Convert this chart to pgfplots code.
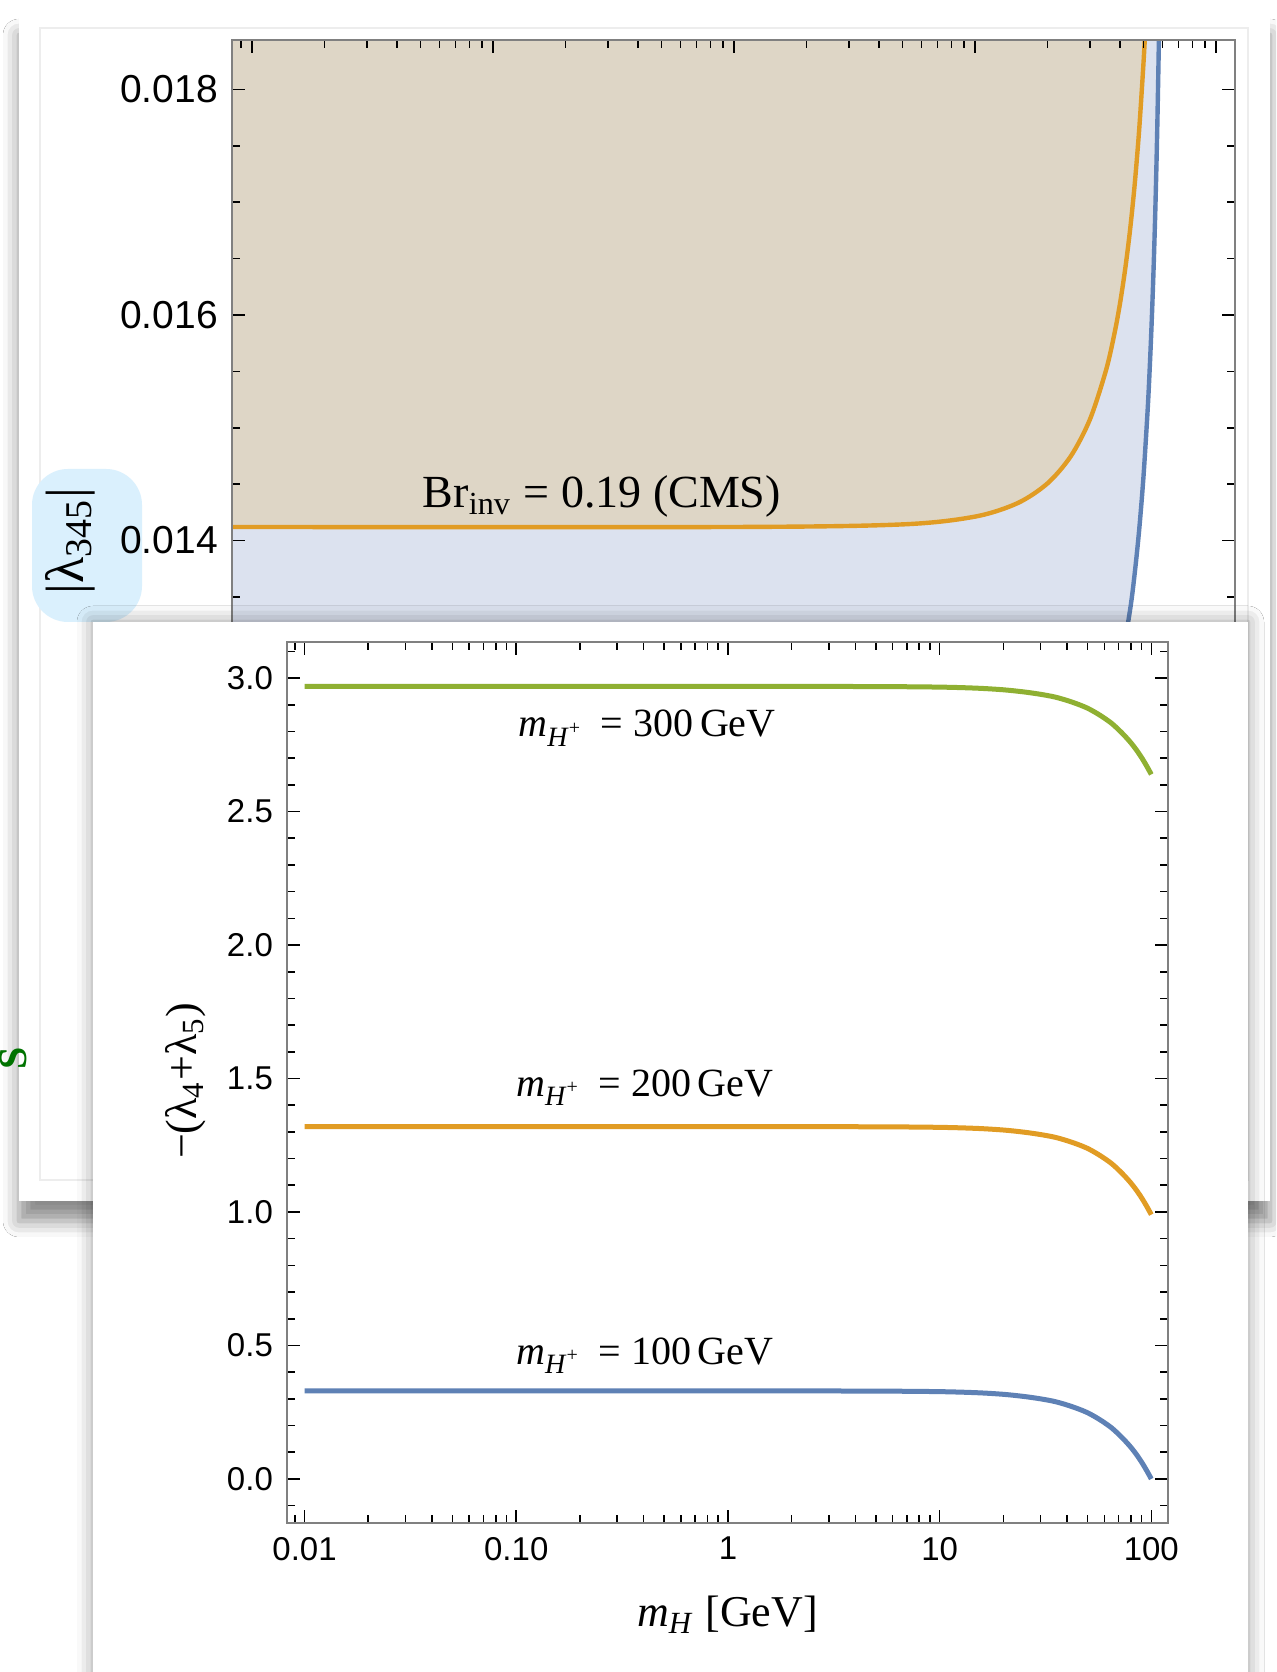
\documentclass[border=0pt]{standalone}
\usepackage{fontspec}
\setmainfont{Liberation Serif}
\newfontfamily\tickfont{Liberation Sans}
\usepackage{pgfplots}
\pgfplotsset{compat=1.18}
\usetikzlibrary{shadows.blur}

\definecolor{mblue}{RGB}{94,129,181}
\definecolor{morange}{RGB}{225,156,36}
\definecolor{mgreen}{RGB}{143,176,50}
\definecolor{fillblue}{RGB}{220,226,239}
\definecolor{fillbeige}{RGB}{222,214,198}
\definecolor{hlcyan}{RGB}{218,240,253}

\newcommand{\mHp}{\textit{m}\textsubscript{\textit{H}\textsuperscript{+}}}

\pgfplotsset{
  mmaframe/.style={
    scale only axis,
    scaled ticks=false,
    axis line style={black!50, line width=0.45pt},
    tick style={black, line width=0.4pt},
    major tick length=3.25pt, minor tick length=2pt,
    tick align=inside,
    xtick={0.01,0.1,1,10,100},
    minor xtick={0.009,0.02,0.03,0.04,0.05,0.06,0.07,0.08,0.09,
                 0.2,0.3,0.4,0.5,0.6,0.7,0.8,0.9,2,3,4,5,6,7,8,9,
                 20,30,40,50,60,70,80,90},
  }
}

\begin{document}
\begin{tikzpicture}[x=0.25pt,y=0.25pt]
\path[use as bounding box] (0,0) rectangle (1276,1672);
\clip (0,0) rectangle (1276,1672);
\fill[white] (0,0) rectangle (1276,1672);

% rear panel: |lambda_345| bound
\fill[white, blur shadow={shadow xshift=0pt, shadow yshift=-5pt,
      shadow blur radius=4pt, shadow opacity=45}] (19,471) rectangle (1270,1657);
\draw[black!7, line width=0.3pt] (40,492) rectangle (1248,1644);
\node[rotate=90, text=green!45!black, inner sep=0pt, font=\bfseries\fontsize{10}{12}\selectfont] at (13,614) {S};

\fill[hlcyan, rounded corners=9pt] (32,1050) rectangle (142,1203);
\node[rotate=90, font=\fontsize{13.5}{15}\selectfont] at (70,1131) {|λ\textsubscript{345}|};

\begin{axis}[xmode=log, xmin=0.00826, xmax=119.9, mmaframe,
  at={(58pt,408pt)}, anchor=north west,
  width=250.75pt, height=240pt,
  ymin=0.009925, ymax=0.018439,
  xticklabels={},
  ytick={0.010,0.012,0.014,0.016,0.018},
  yticklabels={0.010,0.012,0.014,0.016,0.018},
  minor ytick={0.0105,0.011,0.0115,0.0125,0.013,0.0135,0.0145,0.015,0.0155,0.0165,0.017,0.0175},
  yticklabel style={font=\tickfont\fontsize{9.75}{11}\selectfont},
  axis on top,
]
% region above the blue curve
\addplot[draw=none, fill=fillblue] coordinates {
  (0.008,0.01128) (1,0.01128) (10,0.011353) (20,0.011589) (30,0.012043)
  (35,0.012393) (40,0.012868) (44,0.013385) (46,0.013710) (48,0.014095)
  (50,0.014563) (52,0.015144) (53,0.015494) (54,0.015897) (55,0.016367)
  (56,0.016927) (57,0.017612) (58,0.018480) (58.5,0.019013) (0.008,0.019013)
} -- cycle;
% region above the CMS curve
\addplot[draw=none, fill=fillbeige] coordinates {
  (0.008,0.01412) (1,0.01412) (5,0.014143) (10,0.014212) (15,0.014331)
  (20,0.014507) (25,0.014749) (30,0.015075) (35,0.015513) (38,0.015847)
  (40,0.016108) (42,0.016408) (44,0.016755) (46,0.017161) (48,0.017644)
  (50,0.018229) (51,0.018572) (52,0.018957) (0.008,0.018957)
} -- cycle;
\addplot[mblue, line width=1.1pt, smooth] coordinates {
  (0.008,0.01128) (1,0.01128) (10,0.011353) (20,0.011589) (30,0.012043)
  (35,0.012393) (40,0.012868) (44,0.013385) (46,0.013710) (48,0.014095)
  (50,0.014563) (52,0.015144) (53,0.015494) (54,0.015897) (55,0.016367)
  (56,0.016927) (57,0.017612) (58,0.018480) (58.5,0.019013)
};
\addplot[morange, line width=1.1pt, smooth] coordinates {
  (0.008,0.01412) (1,0.01412) (5,0.014143) (10,0.014212) (15,0.014331)
  (20,0.014507) (25,0.014749) (30,0.015075) (35,0.015513) (38,0.015847)
  (40,0.016108) (42,0.016408) (44,0.016755) (46,0.017161) (48,0.017644)
  (50,0.018229) (51,0.018572) (52,0.018957)
};
\node[font=\fontsize{11.5}{13}\selectfont] at (axis cs:0.283,0.014395)
  {Br\textsubscript{inv} = 0.19 (CMS)};
\end{axis}

% front panel: -(lambda_4+lambda_5)
\fill[white, blur shadow={shadow xshift=0pt, shadow yshift=0pt,
      shadow blur radius=4pt, shadow opacity=40}] (93,-60) rectangle (1248,1050);

\begin{axis}[xmode=log, xmin=0.00826, xmax=119.9, mmaframe,
  at={(71.75pt,257.5pt)}, anchor=north west,
  width=220.25pt, height=220.25pt,
  ymin=-0.165, ymax=3.135,
  xticklabels={0.01,0.10,1,10,100},
  ytick={0,0.5,1,1.5,2,2.5,3},
  yticklabels={0.0,0.5,1.0,1.5,2.0,2.5,3.0},
  minor ytick={-0.1,0.1,0.2,0.3,0.4,0.6,0.7,0.8,0.9,1.1,1.2,1.3,1.4,1.6,1.7,1.8,1.9,
               2.1,2.2,2.3,2.4,2.6,2.7,2.8,2.9,3.1},
  ticklabel style={font=\tickfont\fontsize{8.25}{10}\selectfont},
  xlabel={\textit{m}\textsubscript{\textit{H}} [GeV]},
  ylabel={−(λ\textsubscript{4}+λ\textsubscript{5})},
  xlabel style={at={(axis description cs:0.5,-0.104)}, anchor=center,
                font=\fontsize{11}{13}\selectfont},
  ylabel style={at={(axis description cs:-0.115,0.502)}, anchor=center,
                font=\fontsize{11}{13}\selectfont},
]
\addplot[mgreen, line width=1.25pt, smooth] coordinates {
  (0.01,2.969) (1,2.969) (5,2.968) (10,2.966) (15,2.962) (20,2.956) (25,2.948)
  (30,2.939) (35,2.929) (40,2.916) (45,2.902) (50,2.887) (55,2.869) (60,2.850)
  (65,2.830) (70,2.807) (75,2.783) (80,2.758) (85,2.731) (90,2.702) (95,2.671) (100,2.639)
};
\addplot[morange, line width=1.25pt, smooth] coordinates {
  (0.01,1.320) (1,1.320) (5,1.319) (10,1.317) (15,1.313) (20,1.307) (25,1.299)
  (30,1.290) (35,1.280) (40,1.267) (45,1.253) (50,1.238) (55,1.220) (60,1.201)
  (65,1.181) (70,1.158) (75,1.134) (80,1.109) (85,1.082) (90,1.053) (95,1.022) (100,0.990)
};
\addplot[mblue, line width=1.25pt, smooth] coordinates {
  (0.01,0.330) (1,0.330) (5,0.329) (10,0.327) (15,0.323) (20,0.317) (25,0.309)
  (30,0.300) (35,0.290) (40,0.277) (45,0.263) (50,0.248) (55,0.230) (60,0.211)
  (65,0.191) (70,0.168) (75,0.144) (80,0.119) (85,0.092) (90,0.063) (95,0.032) (100,0.000)
};
\node[font=\fontsize{10}{12}\selectfont] at (axis cs:0.415,2.812) {\mHp\ \,= 300\,GeV};
\node[font=\fontsize{10}{12}\selectfont] at (axis cs:0.405,1.466) {\mHp\ \,= 200\,GeV};
\node[font=\fontsize{10}{12}\selectfont] at (axis cs:0.405,0.461) {\mHp\ \,= 100\,GeV};
\end{axis}
\end{tikzpicture}
\end{document}
